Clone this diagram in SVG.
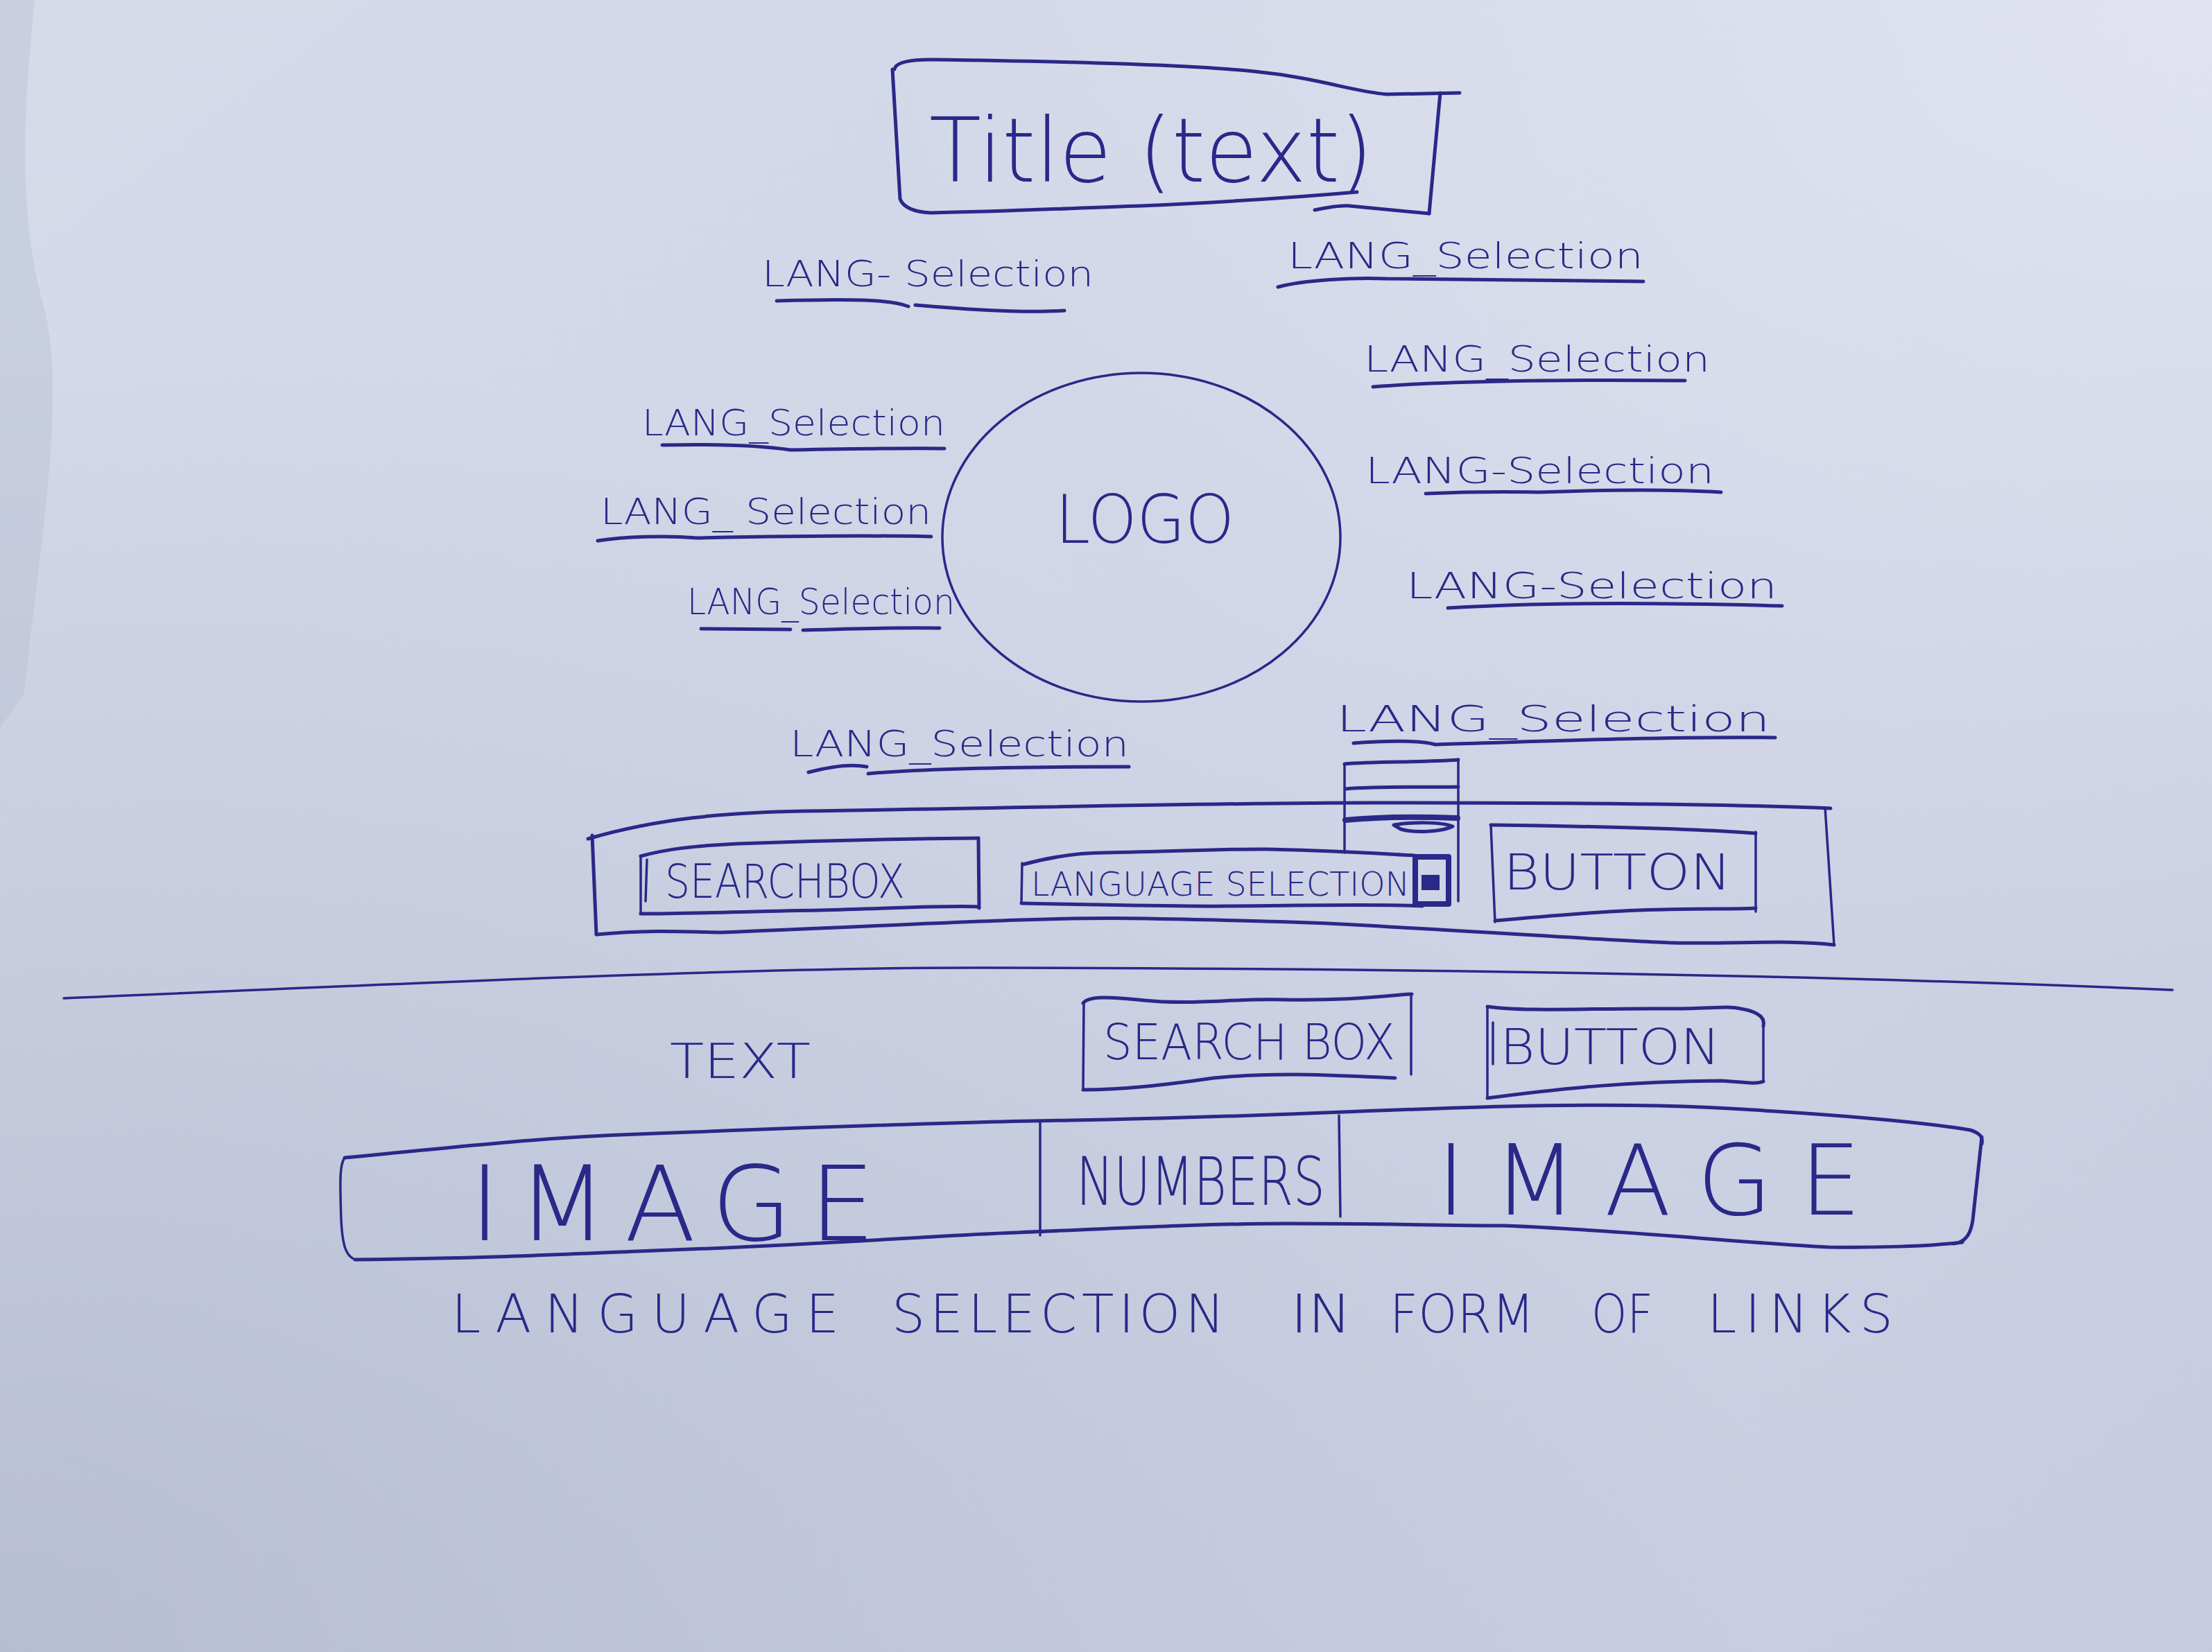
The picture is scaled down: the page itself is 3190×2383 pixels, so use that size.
<svg xmlns="http://www.w3.org/2000/svg" width="3190" height="2383" viewBox="0 0 3190 2383">
<defs>
  <linearGradient id="paper" x1="0" y1="0" x2="1" y2="1">
    <stop offset="0" stop-color="#d6dbea"/>
    <stop offset="0.5" stop-color="#d0d5e7"/>
    <stop offset="1" stop-color="#c6cbdf"/>
  </linearGradient>
  <radialGradient id="shadeBL" cx="0" cy="1" r="0.8">
    <stop offset="0" stop-color="#9aa1b8" stop-opacity="0.45"/>
    <stop offset="1" stop-color="#9aa1b8" stop-opacity="0"/>
  </radialGradient>
  <radialGradient id="shadeTR" cx="1" cy="0" r="0.6">
    <stop offset="0" stop-color="#e8eaf3" stop-opacity="0.7"/>
    <stop offset="1" stop-color="#e8eaf3" stop-opacity="0"/>
  </radialGradient>
</defs>
<style>
  .ink { fill: none; stroke: #2a2888; stroke-width: 5; stroke-linecap: round; stroke-linejoin: round; }
  .thin { stroke-width: 3.5; }
  .thick { stroke-width: 8; }
  .t { fill: #2a2888; font-family: "DejaVu Sans", "Liberation Sans", sans-serif; font-weight: 200; }
  .lbl { font-size: 52px; }
</style>

<!-- paper -->
<rect x="0" y="0" width="3190" height="2383" fill="url(#paper)"/>
<rect x="0" y="0" width="3190" height="2383" fill="url(#shadeBL)"/>
<rect x="0" y="0" width="3190" height="2383" fill="url(#shadeTR)"/>
<path d="M0,0 L50,0 C35,150 25,300 60,430 C100,560 55,800 35,1000 L0,1050 Z" fill="#b3b9cd" opacity="0.35"/>

<!-- Title -->
<g id="title">
  <path class="ink" d="M1290,100 Q1292,86 1342,86 C1500,88 1700,92 1809,103 C1900,112 1950,132 2000,136 L2105,134"/>
  <path class="ink" d="M2077,134 L2061,308"/>
  <path class="ink" d="M1287,100 L1298,287 Q1305,305 1342,307 C1450,305 1550,300 1644,297 C1800,290 1900,282 1957,277"/>
  <path class="ink" d="M1896,303 C1920,298 1935,296 1946,297 L2061,308"/>
  <text class="t" x="1340" y="262" font-size="128" textLength="640" lengthAdjust="spacingAndGlyphs">Title (text)</text>
</g>

<!-- Logo -->
<g id="logo">
  <ellipse class="ink thin" cx="1646" cy="775" rx="287" ry="237"/>
  <text class="t" x="1522" y="783" font-size="96" textLength="258" lengthAdjust="spacingAndGlyphs">LOGO</text>
</g>

<!-- Language selection labels -->
<g id="lang-1">
  <text class="t lbl" x="1099" y="413" textLength="478" lengthAdjust="spacingAndGlyphs">LANG- Selection</text>
  <path class="ink" d="M1120,434 C1250,430 1290,434 1310,442 M1320,440 C1400,447 1480,452 1535,448"/>
</g>
<g id="lang-2">
  <text class="t lbl" x="1857" y="387" textLength="513" lengthAdjust="spacingAndGlyphs">LANG_Selection</text>
  <path class="ink" d="M1843,414 C1880,404 1950,400 2000,402 C2150,404 2300,405 2370,406"/>
</g>
<g id="lang-3">
  <text class="t lbl" x="1967" y="536" textLength="499" lengthAdjust="spacingAndGlyphs">LANG_Selection</text>
  <path class="ink" d="M1980,558 C2080,550 2250,547 2430,549"/>
</g>
<g id="lang-4">
  <text class="t lbl" x="1969" y="697" textLength="503" lengthAdjust="spacingAndGlyphs">LANG-Selection</text>
  <path class="ink" d="M2056,712 C2150,708 2200,710 2220,710 C2300,707 2400,705 2482,710"/>
</g>
<g id="lang-5">
  <text class="t lbl" x="2028" y="863" textLength="535" lengthAdjust="spacingAndGlyphs">LANG-Selection</text>
  <path class="ink" d="M2088,877 C2200,870 2350,868 2570,874"/>
</g>
<g id="lang-6">
  <text class="t lbl" x="1927" y="1055" textLength="626" lengthAdjust="spacingAndGlyphs">LANG_Selection</text>
  <path class="ink" d="M1952,1072 C2000,1068 2050,1068 2070,1074 C2200,1070 2400,1062 2560,1064"/>
</g>
<g id="lang-7">
  <text class="t lbl" x="926" y="628" textLength="437" lengthAdjust="spacingAndGlyphs">LANG_Selection</text>
  <path class="ink" d="M955,642 C1050,640 1100,643 1140,649 C1250,647 1320,646 1362,647"/>
</g>
<g id="lang-8">
  <text class="t lbl" x="866" y="756" textLength="477" lengthAdjust="spacingAndGlyphs">LANG_ Selection</text>
  <path class="ink" d="M862,780 C900,774 960,772 1005,776 C1100,774 1250,772 1343,774"/>
</g>
<g id="lang-9">
  <text class="t lbl" x="991" y="886" textLength="386" lengthAdjust="spacingAndGlyphs">LANG_Selection</text>
  <path class="ink" d="M1011,907 L1140,908 M1158,909 C1220,907 1300,905 1355,906"/>
</g>
<g id="lang-10">
  <text class="t lbl" x="1139" y="1091" textLength="489" lengthAdjust="spacingAndGlyphs">LANG_Selection</text>
  <path class="ink" d="M1166,1114 C1200,1105 1230,1102 1250,1106 M1252,1116 C1350,1107 1500,1106 1628,1106"/>
</g>

<!-- Header bar -->
<g id="header-bar">
  <path class="ink" d="M848,1210 C950,1180 1050,1172 1159,1170 C1500,1165 1800,1157 2004,1158 C2300,1158 2500,1160 2640,1166"/>
  <path class="ink" d="M854,1205 L860,1348"/>
  <path class="ink" d="M860,1348 C950,1340 1000,1345 1041,1345 C1300,1335 1500,1322 1652,1325 C1800,1328 1900,1330 2004,1337 C2200,1348 2350,1358 2414,1360 C2500,1362 2580,1355 2645,1363"/>
  <path class="ink thin" d="M2632,1165 L2645,1363"/>
</g>
<g id="searchbox-1">
  <path class="ink" d="M924,1235 C960,1225 1000,1220 1065,1217 C1200,1212 1300,1210 1411,1209"/>
  <path class="ink" d="M1411,1209 L1412,1310"/>
  <path class="ink" d="M924,1318 C1000,1318 1100,1314 1182,1313 C1300,1310 1360,1306 1411,1308"/>
  <path class="ink thin" d="M924,1237 L924,1318 M933,1240 L931,1300"/>
  <text class="t" x="959" y="1295" font-size="68" textLength="346" lengthAdjust="spacingAndGlyphs">SEARCHBOX</text>
</g>
<g id="language-selection">
  <path class="ink" d="M1475,1247 C1520,1235 1560,1230 1593,1230 C1700,1228 1780,1224 1828,1225 C1950,1228 2000,1232 2040,1234"/>
  <path class="ink thin" d="M1474,1245 L1473,1303"/>
  <path class="ink" d="M1473,1303 C1600,1305 1700,1308 1769,1307 C1900,1306 2000,1304 2051,1307"/>
  <text class="t" x="1487" y="1292" font-size="48" textLength="546" lengthAdjust="spacingAndGlyphs">LANGUAGE SELECTION</text>
  <rect class="ink thick" x="2041" y="1236" width="48" height="68"/>
  <rect x="2050" y="1262" width="26" height="22" fill="#2a2888"/>
</g>
<g id="language-dropdown">
  <path class="ink" d="M1939,1102 C1980,1098 2050,1100 2103,1096"/>
  <path class="ink thin" d="M1939,1102 L1939,1230"/>
  <path class="ink thin" d="M2103,1095 L2103,1300"/>
  <path class="ink" d="M1940,1138 C1990,1134 2050,1136 2103,1135"/>
  <path class="ink thick" d="M1940,1183 C1990,1178 2050,1178 2102,1180"/>
  <path class="ink" d="M2010,1190 C2040,1185 2080,1186 2095,1192 C2080,1200 2040,1202 2020,1196 Z"/>
</g>
<g id="button-1">
  <path class="ink" d="M2150,1190 C2300,1192 2450,1196 2532,1202"/>
  <path class="ink thin" d="M2532,1200 L2532,1315"/>
  <path class="ink" d="M2156,1328 C2250,1320 2330,1313 2400,1312 C2460,1310 2500,1312 2532,1310"/>
  <path class="ink thin" d="M2150,1190 L2156,1330"/>
  <text class="t" x="2168" y="1283" font-size="72" textLength="329" lengthAdjust="spacingAndGlyphs">BUTTON</text>
</g>

<!-- Separator -->
<g id="separator">
  <path class="ink thin" d="M92,1440 C600,1418 1100,1395 1424,1396 C2000,1397 2600,1405 3133,1428"/>
</g>

<!-- Lower section -->
<g id="text-1">
  <text class="t" x="966" y="1555" font-size="70" textLength="203" lengthAdjust="spacingAndGlyphs">TEXT</text>
</g>
<g id="searchbox-2">
  <path class="ink" d="M1562,1447 C1570,1436 1600,1438 1650,1443 C1720,1450 1780,1440 1850,1442 C1950,1444 2000,1436 2036,1434"/>
  <path class="ink thin" d="M2035,1436 L2035,1550"/>
  <path class="ink" d="M1562,1572 C1620,1572 1680,1565 1750,1555 C1850,1545 1950,1553 2012,1555"/>
  <path class="ink thin" d="M1563,1446 L1562,1572"/>
  <text class="t" x="1591" y="1528" font-size="72" textLength="421" lengthAdjust="spacingAndGlyphs">SEARCH BOX</text>
</g>
<g id="button-2">
  <path class="ink" d="M2145,1452 C2200,1460 2300,1454 2400,1455 C2460,1456 2490,1450 2510,1455 C2540,1460 2545,1470 2543,1480"/>
  <path class="ink thin" d="M2543,1470 L2543,1560"/>
  <path class="ink" d="M2145,1584 C2250,1570 2350,1560 2481,1559 C2510,1560 2530,1565 2543,1560"/>
  <path class="ink thin" d="M2145,1452 L2145,1584 M2153,1475 L2153,1535"/>
  <text class="t" x="2163" y="1535" font-size="72" textLength="318" lengthAdjust="spacingAndGlyphs">BUTTON</text>
</g>
<g id="image-bar">
  <path class="ink" d="M497,1670 C700,1650 800,1640 919,1636 C1200,1625 1400,1618 1544,1616 C1800,1612 2000,1600 2169,1596 C2350,1592 2450,1595 2559,1603 C2700,1612 2780,1620 2841,1630 C2855,1634 2860,1640 2858,1650"/>
  <path class="ink" d="M2858,1640 L2845,1760 C2842,1780 2835,1792 2817,1794"/>
  <path class="ink" d="M512,1817 C700,1815 800,1810 919,1805 C1200,1795 1350,1782 1466,1778 C1650,1770 1750,1765 1856,1765 C2000,1765 2100,1768 2169,1768 C2350,1775 2500,1792 2637,1799 C2700,1800 2780,1798 2830,1792"/>
  <path class="ink thin" d="M497,1670 C490,1680 490,1700 492,1760 C494,1800 500,1812 512,1817"/>
  <path class="ink thin" d="M1500,1618 L1500,1782 M1931,1609 L1933,1755"/>
</g>
<g id="image-1">
  <text class="t" x="677" y="1789" font-size="150" textLength="585" lengthAdjust="spacing">IMAGE</text>
</g>
<g id="numbers">
  <text class="t" x="1552" y="1738" font-size="96" textLength="359" lengthAdjust="spacingAndGlyphs">NUMBERS</text>
</g>
<g id="image-2">
  <text class="t" x="2072" y="1752" font-size="140" textLength="612" lengthAdjust="spacing">IMAGE</text>
</g>
<g id="footer-text">
  <text class="t" y="1922" font-size="76"><tspan x="651" textLength="559" lengthAdjust="spacing">LANGUAGE</tspan><tspan x="1286" textLength="480" lengthAdjust="spacing">SELECTION</tspan><tspan x="1861" textLength="88" lengthAdjust="spacingAndGlyphs">IN</tspan><tspan x="2004" textLength="209" lengthAdjust="spacingAndGlyphs">FORM</tspan><tspan x="2295" textLength="89" lengthAdjust="spacingAndGlyphs">OF</tspan><tspan x="2462" textLength="268" lengthAdjust="spacing">LINKS</tspan></text>
</g>

<g id="connectors"/>
</svg>
